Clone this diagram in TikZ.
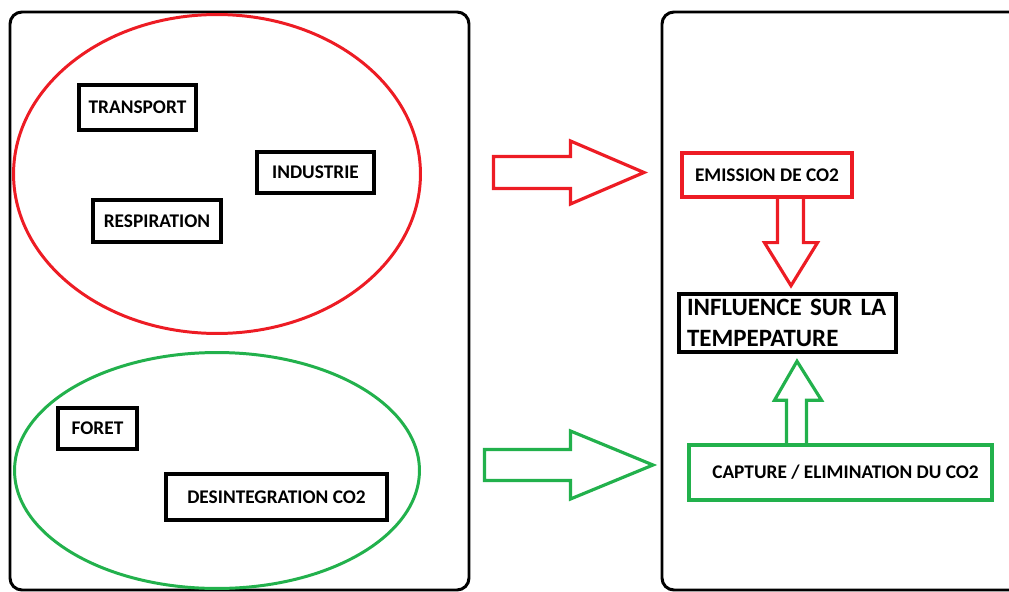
\documentclass[tikz,border=0pt]{standalone}
\usepackage{fontspec}
\setmainfont{Carlito}
\usetikzlibrary{shapes,arrows,positioning,calc}
\definecolor{paintred}{RGB}{237,28,36}
\definecolor{paintgreen}{RGB}{34,177,76}

\begin{document}
\begin{tikzpicture}[x=0.02cm, y=-0.02cm,
					frame/.style={draw, line width=1.7pt, rounded corners=0.24cm},
					cloud/.style={ellipse, draw, line width=1.7pt},
					item/.style={rectangle, draw, line width=2.2pt, font=\fontsize{11}{13}\selectfont\bfseries, inner sep=0pt},
					redarrow/.style={draw=paintred, line width=1.8pt, line join=miter},
					greenarrow/.style={draw=paintgreen, line width=1.8pt, line join=miter}]
					\useasboundingbox (0,0) rectangle (1009,592);
					% the two frames
					\draw[frame] (10,12) rectangle (469,590);
					\draw[frame] (662,12) rectangle (1030,590);
					% sources and sinks
					\node[cloud, draw=paintred, minimum width=8.14cm, minimum height=6.38cm] (sources) at (217,174) {};
					\node[cloud, draw=paintgreen, minimum width=8.1cm, minimum height=4.72cm] (puits) at (217,470.5) {};
					\node[item, minimum width=2.34cm, minimum height=0.9cm] (transport) at (137.5,107.5) {TRANSPORT};
					\node[item, minimum width=2.34cm, minimum height=0.82cm] (industrie) at (315.5,172.5) {INDUSTRIE};
					\node[item, minimum width=2.56cm, minimum height=0.84cm] (respiration) at (157,221) {RESPIRATION};
					\node[item, minimum width=1.58cm, minimum height=0.82cm] (foret) at (97.5,428.5) {FORET};
					\node[item, minimum width=4.42cm, minimum height=0.92cm] (desintegration) at (276.5,497) {DESINTEGRATION CO2};
					% effects
					\node[item, draw=paintred, line width=1.9pt, minimum width=3.4cm, minimum height=0.88cm] (emission) at (767,175) {EMISSION DE CO2};
					\node[item, minimum width=4.34cm, minimum height=1.16cm, text width=4.02cm, align=left,
						font=\fontsize{14.2}{18.1}\selectfont\bfseries] (influence) at (787.5,323) {INFLUENCE SUR LA\\TEMPEPATURE};
					\node[item, draw=paintgreen, line width=2pt, minimum width=6.06cm, minimum height=1.1cm] (capture) at (840.5,472.5) {\hspace{0.2cm}CAPTURE / ELIMINATION DU CO2};
					\coordinate (redin) at (493.5,172.5);
					\coordinate (greenin) at (484.5,465);
					% block arrows
					\draw[redarrow] (redin) ++(0,-16) -- ++(77,0) -- ++(0,-15.5) -- ++(73.5,31.5) -- ++(-73.5,31.5) -- ++(0,-15.5) -- ++(-77,0) -- cycle;
					\draw[greenarrow] (greenin) ++(0,-15.5) -- ++(86,0) -- ++(0,-18.5) -- ++(82.5,34) -- ++(-82.5,34) -- ++(0,-18.5) -- ++(-86,0) -- cycle;
					\draw[redarrow] (emission.south) ++(10.5,0) -- ++(0,44) -- ++(-13,0) -- ++(26.5,43) -- ++(26.5,-43) -- ++(-14,0) -- ++(0,-44);
					\draw[greenarrow] (capture.north) ++(-54,0) -- ++(0,-43) -- ++(-12,0) -- ++(22.5,-39) -- ++(24.5,39) -- ++(-15,0) -- ++(0,43);
				\end{tikzpicture}
\end{document}
